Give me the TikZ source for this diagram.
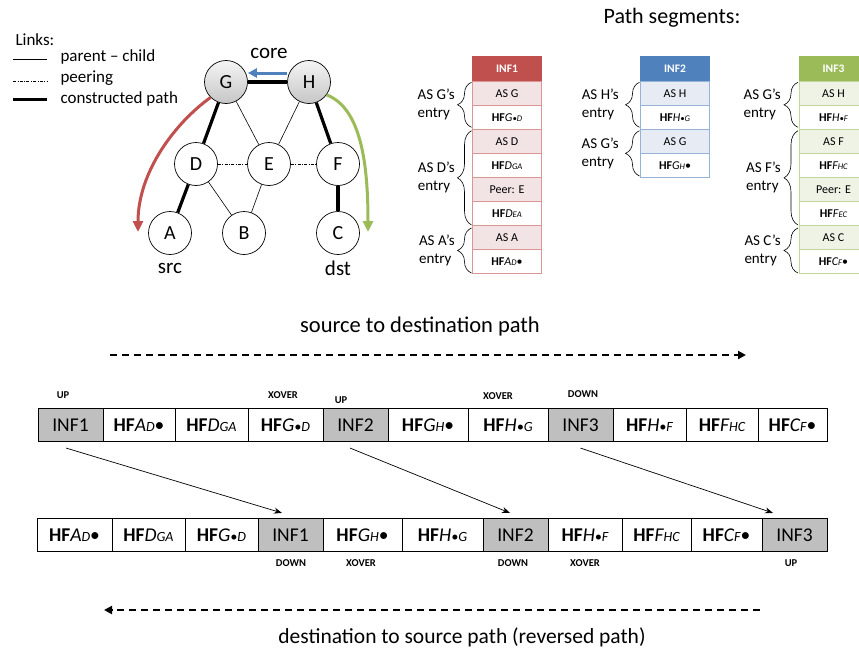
\documentclass[tikz,border=0pt]{standalone}
\usepackage{fontspec}
\setmainfont{Carlito}
\usepackage{graphicx}
\usepackage{tikz}
\usetikzlibrary{arrows.meta, positioning, decorations.pathreplacing, calc}
\definecolor{infRed}{HTML}{C0504D}
\definecolor{infRedLight}{HTML}{F2E4E4}
\definecolor{infRedLine}{HTML}{D99694}
\definecolor{infBlue}{HTML}{4F81BD}
\definecolor{infBlueLight}{HTML}{E6EBF4}
\definecolor{infBlueLine}{HTML}{95B3D7}
\definecolor{infGreen}{HTML}{9BBB59}
\definecolor{infGreenLight}{HTML}{EFF3E6}
\definecolor{infGreenLine}{HTML}{C3D69B}
\definecolor{cellGray}{HTML}{BFBFBF}
\newcommand{\fsz}[1]{\fontsize{#1}{#1}\selectfont}
\newcommand{\hf}[2]{\textbf{HF}\textit{#1\scalebox{0.72}{#2}}}
\tikzset{
  asnode/.style={circle, draw, line width=0.7pt, fill=white, minimum size=43pt, inner sep=0pt, font=\fsz{20}},
  corenode/.style={asnode, top color=gray!8, bottom color=gray!45},
  childlink/.style={line width=0.6pt},
  peerlink/.style={line width=0.6pt, dash pattern=on 3pt off 1.5pt on 0.7pt off 1.5pt},
  pathlink/.style={line width=3.2pt},
  segcell/.style={draw=#1, line width=0.6pt, minimum width=69pt, minimum height=24pt, inner sep=0pt, font=\fsz{12}},
  seghead/.style={segcell=#1, fill=#1, text=white, minimum height=25pt, font=\fsz{11.5}\bfseries},
  entrybrace/.style={decorate, decoration={brace, amplitude=14pt}, line width=0.6pt},
  entrylabel/.style={anchor=east, align=left, inner sep=0pt, font=\fontsize{15}{18}\selectfont},
  rowcell/.style={draw, line width=0.7pt, minimum height=33.4pt, inner sep=0pt, font=\fsz{19.5}},
  dirlabel/.style={font=\fsz{10.5}\bfseries},
  swaparrow/.style={-{Stealth[length=8pt, width=6pt]}, line width=0.7pt},
  flowarrow/.style={-{Triangle[length=8pt, width=8pt]}, line width=2.2pt, dash pattern=on 7pt off 5pt},
}
\begin{document}
\begin{tikzpicture}[x=1pt, y=-1pt]
  \useasboundingbox (0,0) rectangle (859,653);

  % Legend of the link kinds
  \node[anchor=base west, font=\fsz{17}] (links) at (12,45) {Links:};
  \draw[childlink] (13,59.3) -- (47,59.3);
  \node[anchor=base west, font=\fsz{17}] (lchild) at (57,61.7) {parent -- child};
  \draw[peerlink] (13,81) -- (47,81);
  \node[anchor=base west, font=\fsz{17}] (lpeer) at (57,82.7) {peering};
  \draw[pathlink] (13,99.3) -- (47,99.3);
  \node[anchor=base west, font=\fsz{17}] (lpath) at (57,103.3) {constructed path};

  % AS topology (G and H are core)
  \node[corenode] (G) at (226,82) {G};
  \node[corenode] (H) at (309,82) {H};
  \node[asnode] (D) at (196,164) {D};
  \node[asnode] (E) at (269,164) {E};
  \node[asnode] (F) at (338,164) {F};
  \node[asnode] (A) at (170,233) {A};
  \node[asnode] (B) at (244,233) {B};
  \node[asnode] (C) at (338,233) {C};
  \node[font=\fsz{21}] (core) at (269,53) {core};
  \node[font=\fsz{21}] (src) at (170,268) {src};
  \node[font=\fsz{21}] (dst) at (338,268) {dst};
  \draw[childlink] (G) -- (E);
  \draw[childlink] (H) -- (E);
  \draw[childlink] (D) -- (B);
  \draw[childlink] (E) -- (B);
  \draw[peerlink] (D) -- (E);
  \draw[peerlink] (E) -- (F);
  \draw[pathlink] (G) -- (H);
  \draw[pathlink] (G) -- (D);
  \draw[pathlink] (D) -- (A);
  \draw[pathlink] (H) -- (F);
  \draw[pathlink] (F) -- (C);
  % segment directions
  \draw[-{Triangle[length=9pt, width=9pt]}, line width=3pt, infBlue]
    ([yshift=9pt]H.west) -- ([yshift=9pt]G.east);
  \coordinate (srcend) at (138,232);
  \coordinate (dstend) at (368,232);
  \draw[-{Triangle[length=11pt, width=10pt]}, line width=3pt, infRed]
    (G.225) .. controls (175,123) and (138,172) .. (srcend);
  \draw[-{Triangle[length=11pt, width=10pt]}, line width=3pt, infGreen]
    (H.-36) .. controls (360,108) and (368,160) .. (dstend);

  % Path segments
  \node[font=\fsz{22}] (segtitle) at (672,18) {Path segments:};
  % INF1
  \node[seghead=infRed] (inf1h) at (507,69.2) {INF1};
  \foreach \txt [count=\k] in {AS G, \hf{G}{\textbullet D}, AS D, \hf{D}{GA}, Peer: E, \hf{D}{EA}, AS A, {\hf{A}{D}\textbullet}} {
    \ifodd\k\relax \def\rowfill{infRedLight}\else \def\rowfill{white}\fi
    \node[segcell=infRedLine, fill=\rowfill] (inf1r\k) at (507,69.7+24*\k) {\txt};
  }
  \foreach \ya/\yb/\who [count=\k] in {82.3/127.3/{AS G's}, 130.7/225/{AS D's}, 228/273/{AS A's}} {
    \draw[entrybrace] (471.5,\yb) -- (471.5,\ya);
    \node[entrylabel] (inf1l\k) at (455,{(\ya+\yb)/2}) {\who\\entry};
  }
  % INF2
  \node[seghead=infBlue] (inf2h) at (675,69.2) {INF2};
  \foreach \txt [count=\k] in {AS H, \hf{H}{\textbullet G}, AS G, {\hf{G}{H}\textbullet}} {
    \ifodd\k\relax \def\rowfill{infBlueLight}\else \def\rowfill{white}\fi
    \node[segcell=infBlueLine, fill=\rowfill] (inf2r\k) at (675,69.7+24*\k) {\txt};
  }
  \foreach \ya/\yb/\who [count=\k] in {82.3/127.3/{AS H's}, 130.7/176/{AS G's}} {
    \draw[entrybrace] (639.5,\yb) -- (639.5,\ya);
    \node[entrylabel] (inf2l\k) at (619,{(\ya+\yb)/2}) {\who\\entry};
  }
  % INF3
  \node[seghead=infGreen] (inf3h) at (833.5,69.2) {INF3};
  \foreach \txt [count=\k] in {AS H, \hf{H}{\textbullet F}, AS F, \hf{F}{HC}, Peer: E, \hf{F}{EC}, AS C, {\hf{C}{F}\textbullet}} {
    \ifodd\k\relax \def\rowfill{infGreenLight}\else \def\rowfill{white}\fi
    \node[segcell=infGreenLine, fill=\rowfill] (inf3r\k) at (833.5,69.7+24*\k) {\txt};
  }
  \foreach \ya/\yb/\who [count=\k] in {82.3/127.3/{AS G's}, 130.7/225/{AS F's}, 228/273/{AS C's}} {
    \draw[entrybrace] (798,\yb) -- (798,\ya);
    \node[entrylabel] (inf3l\k) at (781,{(\ya+\yb)/2}) {\who\\entry};
  }

  % source to destination path
  \node[font=\fsz{22.5}] (fwdtext) at (420,326) {source to destination path};
  \coordinate (fwdtail) at (110,355);
  \coordinate (fwdhead) at (746,355);
  \draw[flowarrow] (fwdtail) -- (fwdhead);
  \foreach \xa/\xb/\txt/\clr [count=\k] in {38/103/INF1/cellGray, 103/175/{\hf{A}{D}\textbullet}/white,
      175/248/{\hf{D}{GA}}/white, 248/323/{\hf{G}{\textbullet D}}/white, 323/388/INF2/cellGray,
      388/468/{\hf{G}{H}\textbullet}/white, 468/548/{\hf{H}{\textbullet G}}/white, 548/613/INF3/cellGray,
      613/686/{\hf{H}{\textbullet F}}/white, 686/758/{\hf{F}{HC}}/white, 758/827/{\hf{C}{F}\textbullet}/white} {
    \node[rowcell, fill=\clr, minimum width={\xb-\xa}] (t\k) at ({(\xa+\xb)/2},425) {\txt};
  }
  \node[dirlabel] (tup1) at (63,395) {UP};
  \node[dirlabel] (tx1) at (283,395) {XOVER};
  \node[dirlabel] (tup2) at (341,400) {UP};
  \node[dirlabel] (tx2) at (498,396) {XOVER};
  \node[dirlabel] (tdown) at (583,394) {DOWN};

  % reversed path
  \foreach \xa/\xb/\txt/\clr [count=\k] in {37/112/{\hf{A}{D}\textbullet}/white, 112/185/{\hf{D}{GA}}/white,
      185/258/{\hf{G}{\textbullet D}}/white, 258/323/INF1/cellGray, 323/402/{\hf{G}{H}\textbullet}/white,
      402/483/{\hf{H}{\textbullet G}}/white, 483/548/INF2/cellGray, 548/622/{\hf{H}{\textbullet F}}/white,
      622/691/{\hf{F}{HC}}/white, 691/762/{\hf{C}{F}\textbullet}/white, 762/827/INF3/cellGray} {
    \node[rowcell, fill=\clr, minimum width={\xb-\xa}] (b\k) at ({(\xa+\xb)/2},535) {\txt};
  }
  \node[dirlabel] (bdown1) at (291,563) {DOWN};
  \node[dirlabel] (bx1) at (361,563) {XOVER};
  \node[dirlabel] (bdown2) at (513,563) {DOWN};
  \node[dirlabel] (bx2) at (585,563) {XOVER};
  \node[dirlabel] (bup) at (791,563) {UP};
  \draw[swaparrow] ([xshift=-4.5pt, yshift=-6pt]t1.south) -- ([xshift=-8.5pt, yshift=5pt]b4.north);
  \draw[swaparrow] ([xshift=-5.5pt, yshift=-6pt]t5.south) -- ([xshift=-5.5pt, yshift=5pt]b7.north);
  \draw[swaparrow] ([yshift=-6pt]t8.south) -- ([xshift=-21.5pt, yshift=5pt]b11.north);

  \node[font=\fsz{21.5}] (revtext) at (462,637) {destination to source path (reversed path)};
  \coordinate (revtail) at (760,610);
  \coordinate (revhead) at (104,610);
  \draw[flowarrow] (revtail) -- (revhead);
\end{tikzpicture}
\end{document}
